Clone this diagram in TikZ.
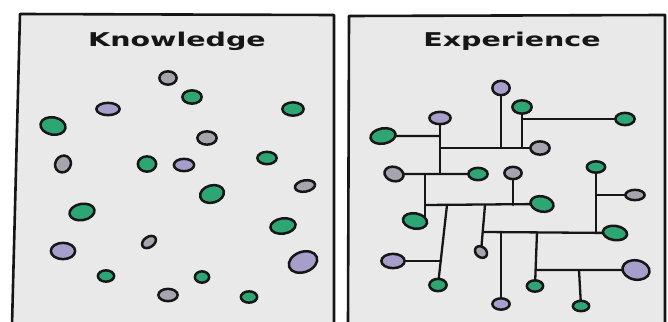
\documentclass[tikz,border=0pt]{standalone}
\usepackage{fontspec}
\newfontfamily\titlefont{DejaVu Sans}
\usetikzlibrary{shapes.geometric}
\definecolor{grn}{RGB}{46,166,116}
\definecolor{prp}{RGB}{168,158,204}
\definecolor{gry}{RGB}{166,164,174}
\definecolor{panelbg}{RGB}{233,233,233}
\definecolor{ink}{RGB}{22,22,22}
\pgfdeclarelayer{bgp}
\pgfdeclarelayer{wires}
\pgfsetlayers{bgp,wires,main}
\begin{document}
\begin{tikzpicture}[x=1pt,y=-1pt,
  dot/.style={ellipse, draw=ink, line width=2.5pt, inner sep=0pt, outer sep=0pt},
  dg/.style={dot, fill=grn},
  dp/.style={dot, fill=prp},
  dy/.style={dot, fill=gry},
  sz/.style 2 args={minimum width=#1pt-0.7pt, minimum height=#2pt-0.7pt},
  frame/.style={draw=ink, line width=2.6pt, line join=round},
  wire/.style={draw=ink, line width=2.3pt, line cap=round},
  title/.style={font=\titlefont\bfseries\fontsize{19}{19}\selectfont, text=ink, inner sep=0pt, anchor=base}
]
\useasboundingbox (0,0) rectangle (668,321);
\begin{pgfonlayer}{bgp}
  \fill[white] (0,0) rectangle (668,321);
  \fill[panelbg] (20,15) -- (334,15) -- (334,325) -- (12,325) -- cycle;
  \draw[frame] (12,325) -- (20,14) -- (334,15) -- (334,325);
  \fill[panelbg] (349,16) -- (665,15) -- (665,325) -- (348,325) -- cycle;
  \draw[frame] (348,325) -- (349,16) -- (665,15) -- (665,325);
\end{pgfonlayer}

% titles
\node[title] (tk) at (177,47) {\scalebox{1.5}[1]{Knowledge}};
\node[title] (te) at (512,47) {\scalebox{1.5}[1]{Experience}};

% Knowledge panel dots
\node[dy, sz={18}{14}] (k1) at (168,78) {};
\node[dg, sz={20}{14}] (k2) at (192,97) {};
\node[dp, sz={24}{13}] (k3) at (108,109) {};
\node[dg, sz={22}{14}] (k4) at (293,109) {};
\node[dg, sz={26}{18}, rotate=-10] (k5) at (53,126) {};
\node[dy, sz={20}{14}] (k6) at (207,138) {};
\node[dy, sz={18}{16}, rotate=60] (k7) at (63,164) {};
\node[dg, sz={19}{16}] (k8) at (147,164) {};
\node[dp, sz={21}{13}] (k9) at (184,165) {};
\node[dg, sz={20}{13}] (k10) at (267,158) {};
\node[dy, sz={21}{12}, rotate=10] (k11) at (305,186) {};
\node[dg, sz={25}{18}, rotate=15] (k12) at (212,194) {};
\node[dg, sz={26}{17}, rotate=10] (k13) at (82,212) {};
\node[dg, sz={26}{16}, rotate=8] (k14) at (283,226) {};
\node[dy, sz={16}{11}, rotate=35] (k15) at (149,242) {};
\node[dp, sz={25}{17}] (k16) at (63,251) {};
\node[dp, sz={30}{21}, rotate=20] (k17) at (303,262) {};
\node[dg, sz={17}{12}] (k18) at (106,276) {};
\node[dg, sz={15}{12}] (k19) at (202,277) {};
\node[dy, sz={20}{13}] (k20) at (168,295) {};
\node[dg, sz={17}{12}] (k21) at (249,297) {};

% Experience panel dots
\node[dp, sz={18}{15}] (eA) at (501,88) {};
\node[dg, sz={20}{14}] (eB) at (522,107) {};
\node[dp, sz={22}{13}] (eC) at (440,118) {};
\node[dg, sz={20}{13}] (eD) at (625,119) {};
\node[dg, sz={26}{16}, rotate=10] (eE) at (383,136) {};
\node[dy, sz={20}{14}] (eF) at (540,148) {};
\node[dy, sz={20}{15}, rotate=-15] (eG) at (394,174) {};
\node[dg, sz={20}{13}] (eH) at (478,174) {};
\node[dy, sz={18}{13}] (eI) at (513,173) {};
\node[dg, sz={19}{12}] (eJ) at (596,167) {};
\node[dy, sz={20}{11}] (eK) at (635,195) {};
\node[dg, sz={24}{16}, rotate=-12] (eL) at (542,204) {};
\node[dg, sz={25}{16}, rotate=-10] (eM) at (415,221) {};
\node[dg, sz={25}{15}, rotate=-8] (eN) at (615,233) {};
\node[dy, sz={14}{11}, rotate=-40] (eO) at (481,252) {};
\node[dp, sz={24}{15}] (eP) at (393,261) {};
\node[dp, sz={28}{20}, rotate=-10] (eQ) at (636,270) {};
\node[dg, sz={18}{13}] (eR) at (438,285) {};
\node[dg, sz={17}{12}] (eS) at (535,286) {};
\node[dp, sz={18}{12}] (eT) at (501,304) {};
\node[dg, sz={17}{11}] (eU) at (581,306) {};

% junctions
\coordinate (jC) at (440,173);
\coordinate (jM) at (425,174);
\coordinate (jMb) at (425,205);
\coordinate (jMe) at (425,218);
\coordinate (jR) at (447,205);
\coordinate (jP) at (441,261);
\coordinate (jO) at (485,205);
\coordinate (jN) at (484,232);
\coordinate (jS) at (537,232);
\coordinate (jQ) at (537,270);
\coordinate (jU) at (579,270);

\begin{pgfonlayer}{wires}
  \draw[wire] (eC) -- (jC);
  \draw[wire] (eE) -- (eE -| eC);
  \draw[wire] (eF) -- (eF -| eC);
  \draw[wire] (eA) -- (eA |- eF);
  \draw[wire] (eB) -- (eB |- eF);
  \draw[wire] (eD) -- (eD -| eB);
  \draw[wire] (eG) -- (eH);
  \draw[wire] (jM) -- (jMb) -- (jMe);
  \draw[wire] (jMb) -- (eL);
  \draw[wire] (eI) -- (eI |- jMb);
  \draw[wire] (jR) -- (eR);
  \draw[wire] (eP) -- (jP);
  \draw[wire] (jO) -- (eO);
  \draw[wire] (jN) -- (eN);
  \draw[wire] (eT |- jN) -- (eT);
  \draw[wire] (jS) -- (eS);
  \draw[wire] (jQ) -- (eQ);
  \draw[wire] (jU) -- (eU);
  \draw[wire] (eJ) -- (eJ |- eN);
  \draw[wire] (eJ |- eK) -- (eK);
\end{pgfonlayer}
\end{tikzpicture}
\end{document}
